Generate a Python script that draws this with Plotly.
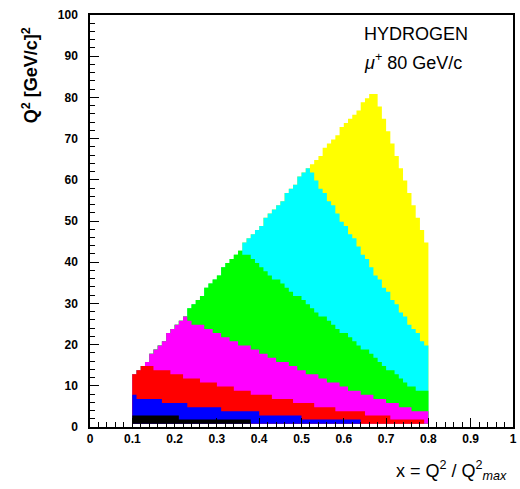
import plotly.graph_objects as go

# ---- data: Q^2 bins (edge index n -> Q^2 = n + Q2_BIN_ORIGIN) per x bin ----
X_BIN_LOW = 0.10
X_BIN_WIDTH = 0.01
Q2_BIN_ORIGIN = 0.8

# upper boundary (bin index) of each coloured region, one value per x bin (0.10 .. 0.79)
YELLOW_TOP = [12, 13, 14, 15, 17, 18, 19, 20, 22, 23,
              24, 25, 26, 28, 29, 30, 31, 33, 34, 35,
              36, 38, 39, 40, 41, 42, 44, 45, 46, 47,
              48, 50, 51, 52, 53, 54, 56, 57, 58, 60,
              61, 62, 63, 64, 65, 67, 68, 69, 70, 72,
              73, 74, 75, 76, 78, 79, 80, 80, 77, 74,
              71, 68, 65, 62, 59, 56, 53, 50, 47, 44]
CYAN_TOP = [12, 13, 14, 15, 17, 18, 19, 20, 22, 23,
            24, 25, 26, 28, 29, 30, 31, 33, 34, 35,
            36, 38, 39, 40, 41, 42, 44, 45, 46, 47,
            48, 50, 51, 52, 53, 54, 56, 57, 58, 60,
            61, 62, 61, 59, 57, 56, 54, 53, 51, 49,
            48, 46, 45, 43, 41, 40, 38, 36, 35, 33,
            32, 30, 29, 27, 26, 24, 23, 22, 20, 19]
GREEN_TOP = [12, 13, 14, 15, 17, 18, 19, 20, 22, 23,
             24, 25, 26, 28, 29, 30, 31, 33, 34, 35,
             36, 38, 39, 40, 41, 42, 41, 41, 40, 39,
             38, 37, 36, 35, 35, 34, 33, 32, 31, 31,
             30, 29, 28, 27, 26, 26, 25, 24, 23, 22,
             22, 21, 20, 19, 18, 18, 17, 16, 15, 14,
             13, 13, 12, 11, 10, 9, 9, 8, 8, 8]
MAGENTA_TOP = [12, 13, 14, 15, 17, 18, 19, 20, 22, 23,
               24, 25, 26, 25, 24, 24, 24, 23, 23, 22,
               22, 21, 21, 20, 20, 19, 19, 19, 18, 18,
               17, 17, 16, 16, 15, 15, 15, 14, 14, 13,
               13, 12, 12, 12, 11, 11, 10, 10, 10, 9,
               9, 8, 8, 8, 7, 7, 7, 6, 6, 6,
               5, 5, 5, 4, 4, 4, 3, 3, 3, 3]
RED_TOP = [12, 13, 14, 14, 14, 13, 13, 13, 13, 12,
           12, 12, 11, 11, 11, 11, 10, 10, 10, 10,
           9, 9, 9, 9, 8, 8, 8, 8, 7, 7,
           7, 7, 7, 6, 6, 6, 6, 6, 5, 5,
           5, 5, 5, 4, 4, 4, 4, 4, 3, 3,
           3, 3, 3, 3, 3, 2, 2, 2, 2, 2,
           2, 1, 1, 1, 1, 1, 1, 1, 1, 0]
BLUE_TOP = [7, 6, 6, 6, 6, 6, 6, 5, 5, 5,
            5, 5, 5, 4, 4, 4, 4, 4, 4, 4,
            4, 3, 3, 3, 3, 3, 3, 3, 3, 3,
            2, 2, 2, 2, 2, 2, 2, 2, 2, 2,
            1, 1, 1, 1, 1, 1, 1, 1, 1, 1,
            1, 1, 1, 1, 0, 0, 0, 0, 0, 0,
            0, 0, 0, 0, 0, 0, 0, 0, 0, 0]
BLACK_TOP = [2, 2, 2, 2, 2, 2, 2, 2, 2, 2,
             2, 1, 1, 1, 1, 1, 1, 1, 1, 1,
             1, 1, 1, 1, 1, 1, 1, 1, 0, 0,
             0, 0, 0, 0, 0, 0, 0, 0, 0, 0,
             0, 0, 0, 0, 0, 0, 0, 0, 0, 0,
             0, 0, 0, 0, 0, 0, 0, 0, 0, 0,
             0, 0, 0, 0, 0, 0, 0, 0, 0, 0]

BANDS = [("#ffff00", YELLOW_TOP), ("#00ffff", CYAN_TOP), ("#00ff00", GREEN_TOP),
         ("#ff00ff", MAGENTA_TOP), ("#ff0000", RED_TOP), ("#0000ff", BLUE_TOP),
         ("#000000", BLACK_TOP)]

n_bins = len(YELLOW_TOP)
x_edges = [round(X_BIN_LOW + i * X_BIN_WIDTH, 4) for i in range(n_bins + 1)]

fig = go.Figure()
for color, top in BANDS:
    base_y = [Q2_BIN_ORIGIN] * (n_bins + 1)
    top_y = [v + Q2_BIN_ORIGIN for v in top] + [top[-1] + Q2_BIN_ORIGIN]
    fig.add_trace(go.Scatter(x=x_edges, y=base_y, mode="lines", line=dict(width=0, shape="hv"),
                             hoverinfo="skip", showlegend=False))
    fig.add_trace(go.Scatter(x=x_edges, y=top_y, mode="lines", line=dict(width=0, shape="hv"),
                             fill="tonexty", fillcolor=color, hoverinfo="skip", showlegend=False))

tickfont = dict(family="Arial", size=12, color="black", weight="bold")
axis_common = dict(showline=True, mirror=True, linecolor="black", linewidth=1.5,
                   showgrid=False, zeroline=False, ticks="inside", ticklen=9,
                   tickcolor="black", tickwidth=1, tickfont=tickfont)

fig.update_xaxes(range=[0, 1], tick0=0, dtick=0.1,
                 minor=dict(dtick=0.02, ticks="inside", ticklen=5, tickcolor="black"),
                 **axis_common)
fig.update_yaxes(range=[0, 100], tick0=0, dtick=10,
                 minor=dict(dtick=2, ticks="inside", ticklen=5, tickcolor="black"),
                 ticklabelstandoff=8, **axis_common)

fig.add_annotation(text="<b>Q<sup>2</sup> [GeV/c]<sup>2</sup></b>", xref="paper", yref="paper",
                   x=-0.142, y=0.975, xanchor="center", yanchor="top", textangle=-90,
                   showarrow=False, font=dict(family="Arial", size=18, color="black"))
fig.add_annotation(text="x = Q<sup>2</sup> / Q<sup>2</sup><sub><i>max</i></sub>", xref="paper", yref="paper",
                   x=0.99, y=-0.07, xanchor="right", yanchor="top",
                   showarrow=False, font=dict(family="Arial", size=18, color="black"))
fig.add_annotation(text="HYDROGEN", xref="paper", yref="paper",
                   x=0.642, y=0.953, xanchor="left", yanchor="middle",
                   showarrow=False, font=dict(family="Arial", size=18, color="black"))
fig.add_annotation(text="<i>μ</i><sup>+</sup> 80 GeV/c", xref="paper", yref="paper",
                   x=0.642, y=0.888, xanchor="left", yanchor="middle",
                   showarrow=False, font=dict(family="Arial", size=18, color="black"))

fig.update_layout(width=520, height=489, margin=dict(l=90, r=3, t=15, b=62),
                  paper_bgcolor="white", plot_bgcolor="white", showlegend=False)

fig.write_html("out.html")
